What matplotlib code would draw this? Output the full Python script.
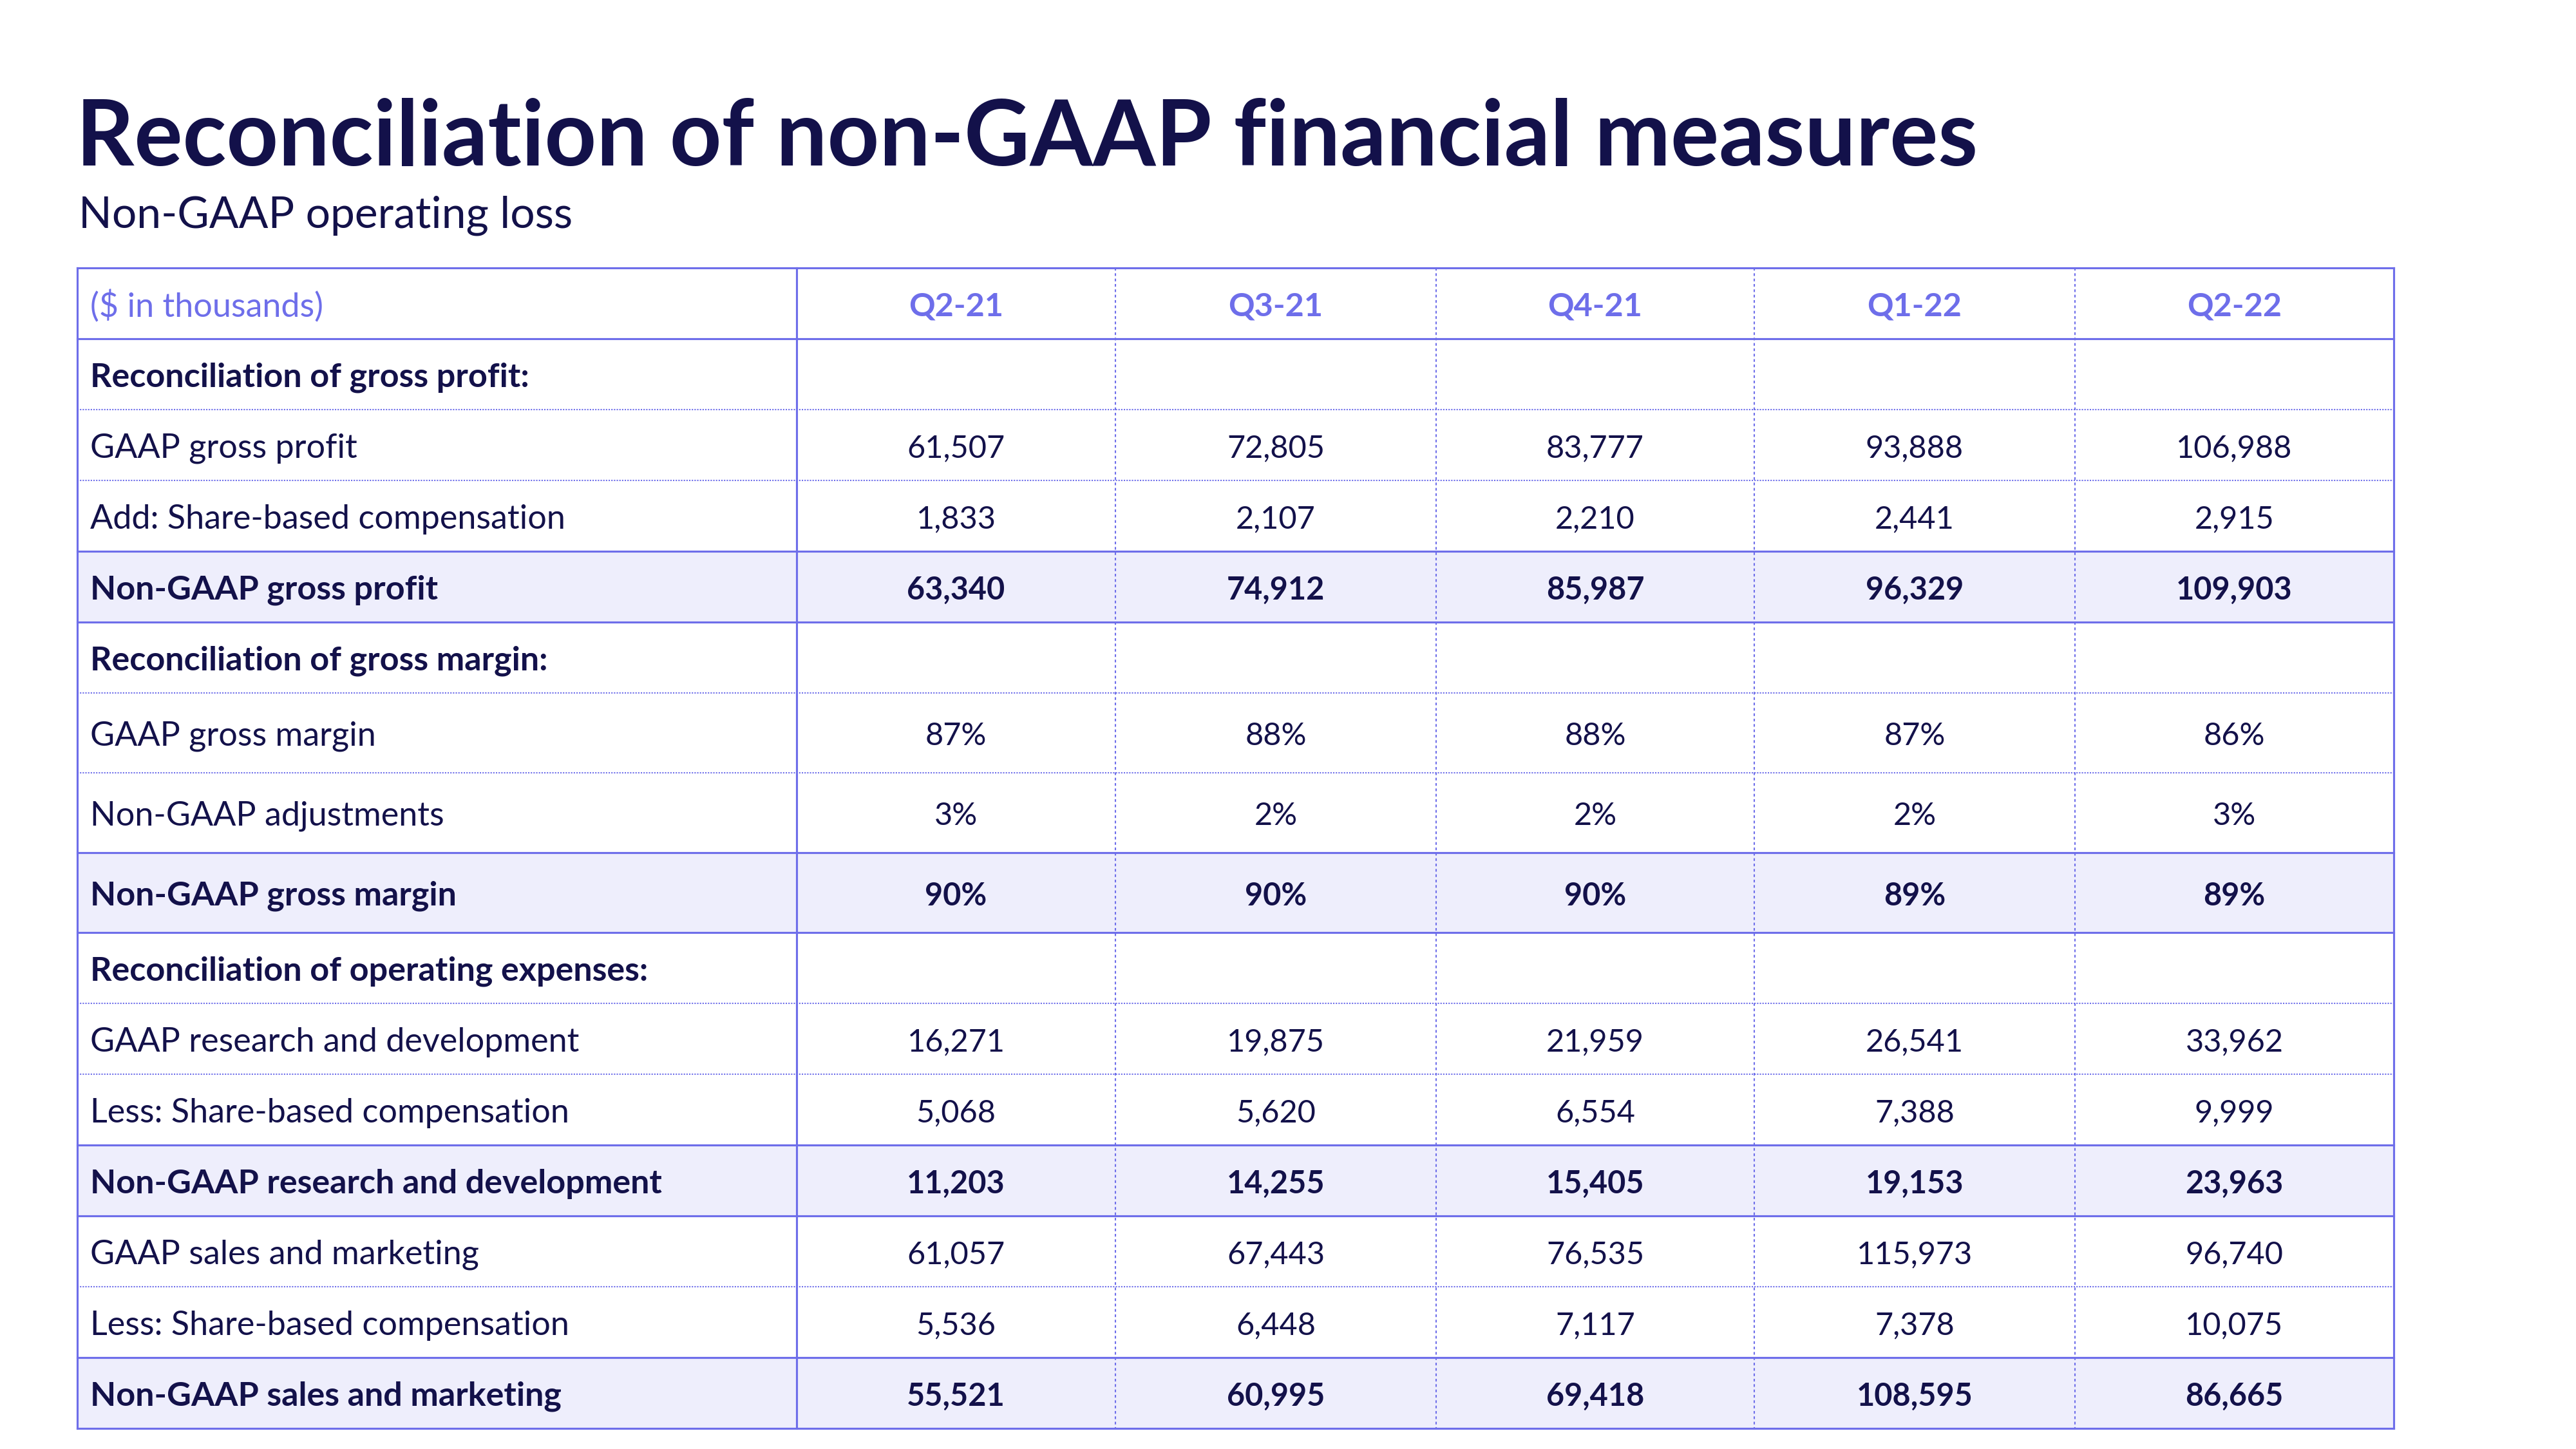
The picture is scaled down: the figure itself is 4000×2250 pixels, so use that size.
import numpy as np
import matplotlib.pyplot as plt

# table data
quarters = ["Q2-21", "Q3-21", "Q4-21", "Q1-22", "Q2-22"]
row_labels = [
    "Reconciliation of gross profit:",
    "GAAP gross profit",
    "Add: Share-based compensation",
    "Non-GAAP gross profit",
    "Reconciliation of gross margin:",
    "GAAP gross margin",
    "Non-GAAP adjustments",
    "Non-GAAP gross margin",
    "Reconciliation of operating expenses:",
    "GAAP research and development",
    "Less: Share-based compensation",
    "Non-GAAP research and development",
    "GAAP sales and marketing",
    "Less: Share-based compensation",
    "Non-GAAP sales and marketing",
]
# 'sec' = section heading, 'row' = plain row, 'tot' = highlighted total
row_kinds = ["sec", "row", "row", "tot", "sec", "row", "row", "tot",
             "sec", "row", "row", "tot", "row", "row", "tot"]

gaap_gross_profit = [61507, 72805, 83777, 93888, 106988]
sbc_cost_of_revenue = [1833, 2107, 2210, 2441, 2915]
non_gaap_gross_profit = [63340, 74912, 85987, 96329, 109903]
gaap_gross_margin = [87, 88, 88, 87, 86]
non_gaap_adjustments = [3, 2, 2, 2, 3]
non_gaap_gross_margin = [90, 90, 90, 89, 89]
gaap_rd = [16271, 19875, 21959, 26541, 33962]
sbc_rd = [5068, 5620, 6554, 7388, 9999]
non_gaap_rd = [11203, 14255, 15405, 19153, 23963]
gaap_sm = [61057, 67443, 76535, 115973, 96740]
sbc_sm = [5536, 6448, 7117, 7378, 10075]
non_gaap_sm = [55521, 60995, 69418, 108595, 86665]

def money(v):
    return ["{:,}".format(x) for x in v]

def pct(v):
    return ["{}%".format(x) for x in v]

cells = [
    [""] * 5,
    money(gaap_gross_profit),
    money(sbc_cost_of_revenue),
    money(non_gaap_gross_profit),
    [""] * 5,
    pct(gaap_gross_margin),
    pct(non_gaap_adjustments),
    pct(non_gaap_gross_margin),
    [""] * 5,
    money(gaap_rd),
    money(sbc_rd),
    money(non_gaap_rd),
    money(gaap_sm),
    money(sbc_sm),
    money(non_gaap_sm),
]

navy = "#13114a"
blue = "#6e6eea"
fill = "#eeeefc"

plt.rcParams['font.family'] = ['Lato', 'DejaVu Sans']

fig = plt.figure(figsize=(16, 9), dpi=250)
ax = fig.add_axes([0, 0, 1, 1])
ax.set_xlim(0, 4000)
ax.set_ylim(2250, 0)
ax.axis('off')

# layout in pixels
col_edges = [120, 1237, 1732, 2230, 2724, 3222, 3717]
row_h = [110] + [110 if i not in (5, 6, 7) else 124 for i in range(len(row_labels))]
row_edges = np.concatenate([[416], 416 + np.cumsum(row_h)])
left, right = col_edges[0], col_edges[-1]
top, bottom = row_edges[0], row_edges[-1]

ax.text(118, 257, "Reconciliation of non-GAAP financial measures",
        fontsize=40.5, fontweight='bold', color=navy, va='baseline')
ax.text(122, 353, "Non-GAAP operating loss", fontsize=19.5,
        color=navy, va='baseline')

# highlighted rows
for i, k in enumerate(row_kinds):
    if k == "tot":
        ax.fill_between([left, right], row_edges[i + 1], row_edges[i + 2],
                        color=fill, lw=0, zorder=0)

# horizontal rules
solid_kw = dict(color=blue, lw=0.9, zorder=2)
dot_kw = dict(color=blue, lw=0.6, ls=(0, (1, 1)), zorder=1)
for j in range(1, len(row_edges) - 1):
    above = row_kinds[j - 2] if j >= 2 else None
    below = row_kinds[j - 1]
    if j == 1 or below == "tot" or above == "tot":
        ax.plot([left, right], [row_edges[j]] * 2, **solid_kw)
    else:
        ax.plot([left, right], [row_edges[j]] * 2, **dot_kw)
ax.plot([left, right], [top, top], **solid_kw)
ax.plot([left, right], [bottom, bottom], **solid_kw)

# vertical rules
ax.plot([left, left], [top, bottom], **solid_kw)
ax.plot([right, right], [top, bottom], **solid_kw)
ax.plot([col_edges[1]] * 2, [top, bottom], **solid_kw)
for x in col_edges[2:-1]:
    ax.plot([x, x], [top, bottom], color=blue, lw=0.6, ls=(0, (2, 2)), zorder=1)

# header
ymid = (row_edges[0] + row_edges[1]) / 2 + 5
ax.text(left + 20, ymid, "($ in thousands)", fontsize=15, color=blue, va='center')
for c, q in enumerate(quarters):
    xc = (col_edges[c + 1] + col_edges[c + 2]) / 2
    ax.text(xc, ymid, q, fontsize=14.5, color=blue, fontweight='bold',
            ha='center', va='center')

# body
for i, (lab, k) in enumerate(zip(row_labels, row_kinds)):
    ymid = (row_edges[i + 1] + row_edges[i + 2]) / 2 + 5
    w = 'bold' if k in ("sec", "tot") else 'normal'
    ax.text(left + 20, ymid, lab, fontsize=15, color=navy, fontweight=w, va='center')
    for c, val in enumerate(cells[i]):
        xc = (col_edges[c + 1] + col_edges[c + 2]) / 2
        ax.text(xc, ymid, val, fontsize=14, color=navy, fontweight=w,
                ha='center', va='center')

fig.savefig("out.png", dpi=250, facecolor='white')
